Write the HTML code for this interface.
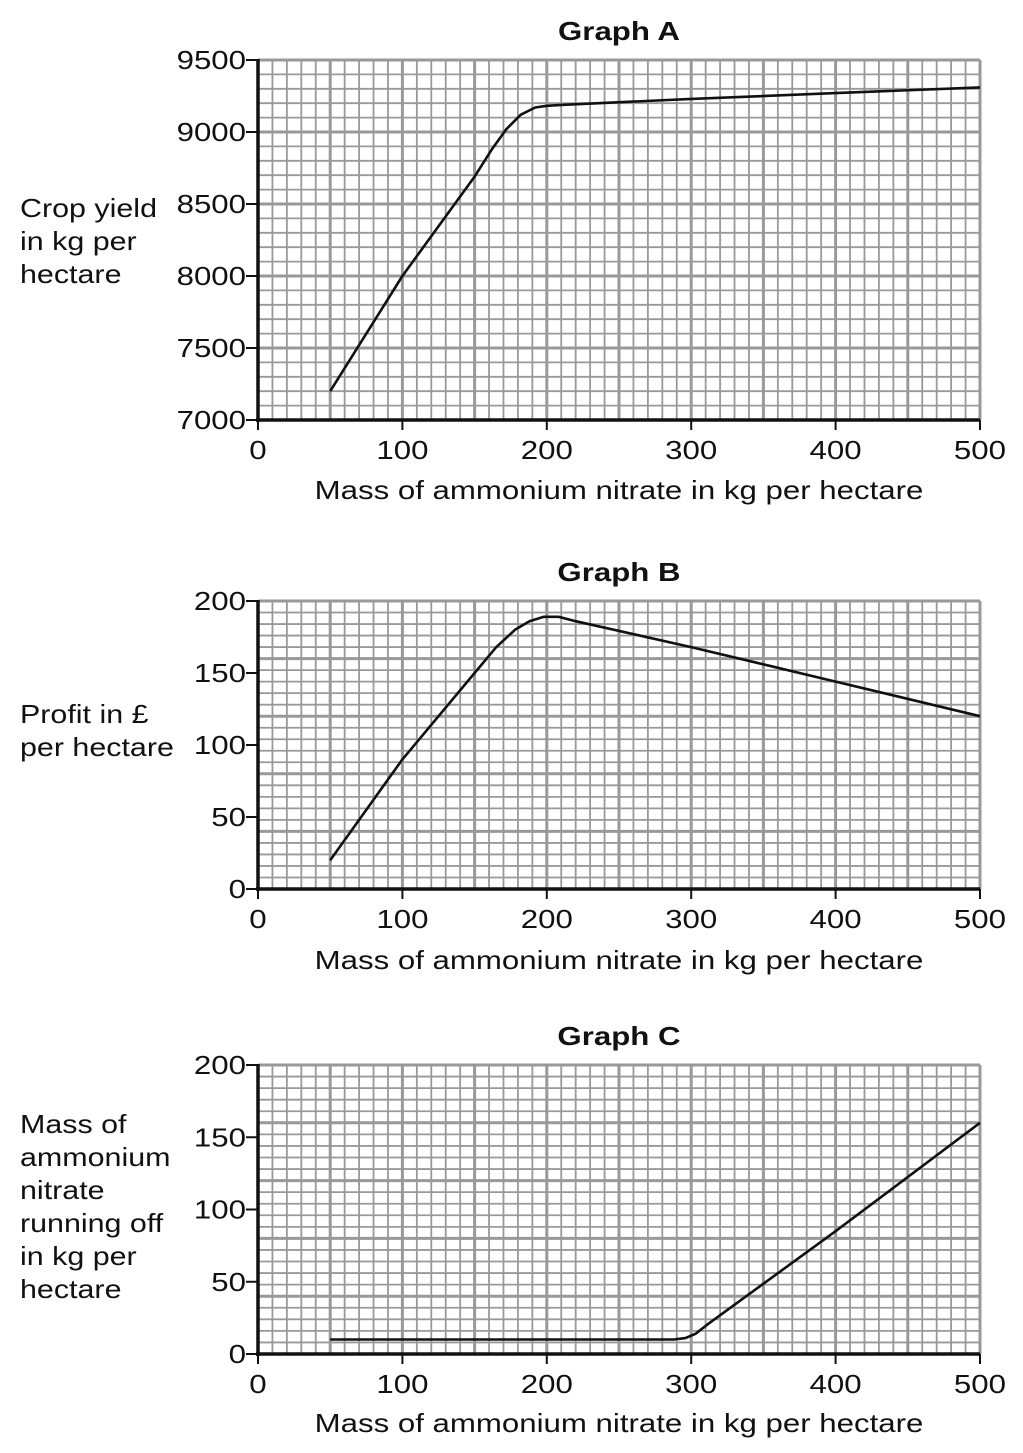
<!DOCTYPE html>
<html><head><meta charset="utf-8"><style>
body{margin:0;background:#fff;width:1023px;height:1453px;overflow:hidden}
svg{position:absolute;left:0;top:0}
text{font-family:"Liberation Sans",sans-serif;fill:#111}
</style></head><body>
<svg id="s" width="1023" height="1453"></svg>
<script>
const xTicks=[0,100,200,300,400,500];
const aTicks=[7000,7500,8000,8500,9000,9500];
const bTicks=[0,50,100,150,200];
const cTicks=[0,50,100,150,200];
const aX=[50,100,150,162,172,182,192,200,210,300,400,500];
const aY=[7200,8000,8690,8880,9020,9120,9170,9182,9188,9230,9270,9310];
const bX=[50,100,150,165,178,188,198,208,220,300,400,500];
const bY=[20,90,150,168,180,186,189,189,186,168,144,120];
const cX=[50,288,296,303,312,400,500];
const cY=[10,10,11,14,21,85,160];
const NS="http://www.w3.org/2000/svg";
const svg=document.getElementById('s');
function mk(t,a,p){const e=document.createElementNS(NS,t);for(const k in a)e.setAttribute(k,a[k]);(p||svg).appendChild(e);return e;}
function chart(name,title,top,bottom,ymin,ymax,yt,xs,ys,ylabel,xtitleY){
  const g=mk('g',{});
  
  
  const L=258,R=980;
  const sx=v=>L+(v/500)*(R-L);
  const sy=v=>bottom-(v-ymin)/(ymax-ymin)*(bottom-top);
  const ystep=(ymax-ymin)/25;
  for(let i=0;i<=50;i++){const x=sx(i*10);const maj=i%5==0;const l=mk('line',{x1:x,x2:x,y1:top,y2:bottom,stroke:'#999','stroke-width':maj?3:1.8},g);}
  for(let i=0;i<=25;i++){const y=sy(ymin+i*ystep);const maj=i%5==0;const l=mk('line',{x1:L,x2:R,y1:y,y2:y,stroke:'#999','stroke-width':maj?3:1.8},g);}
  mk('line',{x1:L,x2:L,y1:top-1,y2:bottom+2,stroke:'#111','stroke-width':3.5},g);
  mk('line',{x1:L-2,x2:R,y1:bottom,y2:bottom,stroke:'#111','stroke-width':3.5},g);
  yt.forEach(v=>{mk('line',{x1:L-12,x2:L,y1:sy(v),y2:sy(v),stroke:'#111','stroke-width':2},g);
    const t=mk('text',{x:L-12,y:sy(v)+9,'text-anchor':'end','font-size':26},g);t.textContent=v;
    });
  xTicks.forEach(v=>{mk('line',{x1:sx(v),x2:sx(v),y1:bottom,y2:bottom+10,stroke:'#111','stroke-width':2},g);
    const t=mk('text',{x:sx(v),y:bottom+39,'text-anchor':'middle','font-size':26},g);t.textContent=v;
    });
  const d=xs.map((v,i)=>(i?'L':'M')+sx(v).toFixed(1)+','+sy(ys[i]).toFixed(1)).join(' ');
  const p=mk('path',{d:d,fill:'none',stroke:'#111','stroke-width':2.6,'stroke-linejoin':'round'},g);
  
  const tt=mk('text',{x:619,y:top-20,'text-anchor':'middle','font-size':26,'font-weight':'bold'},g);tt.textContent=title;
  
  const xt=mk('text',{x:619,y:xtitleY,'text-anchor':'middle','font-size':26},g);xt.textContent='Mass of ammonium nitrate in kg per hectare';
  
  const yl=mk('text',{x:20,y:ylabel.y,'font-size':26},g);
  
  ylabel.lines.forEach((s,i)=>{const ts=mk('tspan',{x:20,dy:i?33:0},yl);ts.textContent=s;});
}
chart('graph-a','Graph A',60,420,7000,9500,aTicks,aX,aY,{y:217,lines:['Crop yield','in kg per','hectare']},499);
chart('graph-b','Graph B',601,889,0,200,bTicks,bX,bY,{y:723,lines:['Profit in £','per hectare']},969);
chart('graph-c','Graph C',1065,1354,0,200,cTicks,cX,cY,{y:1133,lines:['Mass of','ammonium','nitrate','running off','in kg per','hectare']},1432);
// widen glyphs to match the reference's horizontally stretched typeface
document.querySelectorAll('text').forEach(t=>{
  const tspans=t.querySelectorAll('tspan');
  if(tspans.length){tspans.forEach(s=>{const w=s.getComputedTextLength();s.setAttribute('textLength',(w*1.17).toFixed(1));s.setAttribute('lengthAdjust','spacingAndGlyphs');});}
  else{const w=t.getComputedTextLength();t.setAttribute('textLength',(w*1.2).toFixed(1));t.setAttribute('lengthAdjust','spacingAndGlyphs');}
});
</script>
</body></html>
